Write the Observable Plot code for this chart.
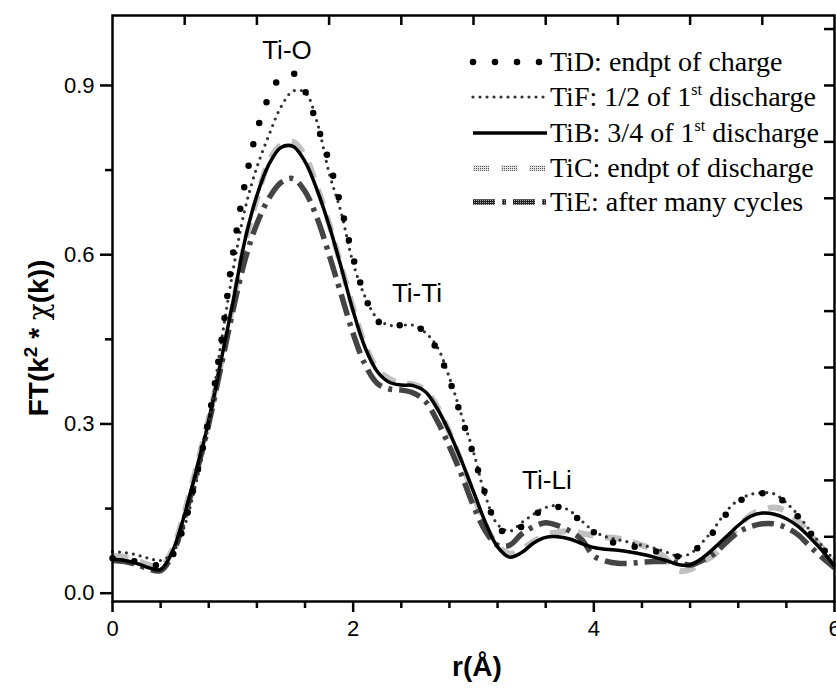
<!DOCTYPE html>
<html><head><meta charset="utf-8">
<script src="https://cdn.jsdelivr.net/npm/d3@7"></script>
<script src="https://cdn.jsdelivr.net/npm/@observablehq/plot@0.6"></script>
<style>body{margin:0;background:#fff} #chart{width:836px;height:688px;position:relative}</style>
</head><body><div id="chart"></div>
<script>
const r = [0.0,0.1,0.2,0.3,0.4,0.5,0.6,0.7,0.8,0.9,1.0,1.1,1.2,1.3,1.4,1.5,1.6,1.7,1.8,1.9,2.0,2.1,2.2,2.3,2.4,2.5,2.6,2.7,2.8,2.9,3.0,3.1,3.2,3.3,3.4,3.5,3.6,3.7,3.8,3.9,4.0,4.1,4.2,4.3,4.4,4.5,4.6,4.7,4.8,4.9,5.0,5.1,5.2,5.3,5.4,5.5,5.6,5.7,5.8,5.9,6.0];
const tiD = [0.062,0.060,0.056,0.052,0.050,0.068,0.125,0.210,0.310,0.440,0.600,0.725,0.820,0.880,0.915,0.922,0.890,0.830,0.765,0.685,0.595,0.525,0.483,0.473,0.475,0.475,0.462,0.430,0.378,0.312,0.245,0.175,0.118,0.105,0.118,0.137,0.151,0.153,0.144,0.126,0.108,0.094,0.088,0.084,0.080,0.075,0.070,0.065,0.070,0.088,0.110,0.140,0.162,0.172,0.177,0.175,0.158,0.135,0.107,0.080,0.055];
const tiF = [0.074,0.072,0.068,0.062,0.058,0.072,0.120,0.200,0.300,0.440,0.570,0.680,0.755,0.812,0.862,0.890,0.888,0.835,0.745,0.675,0.585,0.525,0.487,0.475,0.475,0.475,0.462,0.436,0.382,0.316,0.250,0.172,0.122,0.110,0.125,0.140,0.152,0.155,0.146,0.128,0.110,0.100,0.095,0.090,0.085,0.080,0.073,0.066,0.070,0.090,0.115,0.145,0.165,0.175,0.178,0.176,0.160,0.138,0.110,0.083,0.058];
const tiB = [0.060,0.058,0.053,0.045,0.042,0.075,0.140,0.220,0.305,0.410,0.515,0.625,0.705,0.760,0.790,0.792,0.765,0.715,0.652,0.578,0.500,0.435,0.393,0.374,0.369,0.368,0.357,0.327,0.285,0.235,0.180,0.125,0.082,0.064,0.072,0.089,0.099,0.100,0.096,0.088,0.081,0.078,0.076,0.073,0.069,0.064,0.058,0.051,0.050,0.062,0.080,0.100,0.120,0.136,0.142,0.140,0.132,0.118,0.098,0.075,0.048];
const tiC = [0.066,0.064,0.058,0.050,0.046,0.078,0.145,0.225,0.310,0.405,0.510,0.620,0.700,0.765,0.795,0.800,0.775,0.720,0.655,0.580,0.505,0.440,0.398,0.380,0.372,0.370,0.360,0.330,0.285,0.232,0.175,0.120,0.085,0.070,0.078,0.092,0.103,0.108,0.110,0.106,0.102,0.099,0.097,0.092,0.085,0.076,0.062,0.040,0.042,0.055,0.068,0.090,0.118,0.138,0.148,0.152,0.145,0.128,0.103,0.080,0.058];
const tiE = [0.058,0.056,0.051,0.043,0.040,0.070,0.135,0.215,0.300,0.400,0.500,0.590,0.655,0.700,0.728,0.735,0.712,0.665,0.600,0.530,0.460,0.405,0.372,0.362,0.360,0.355,0.340,0.305,0.260,0.210,0.155,0.110,0.085,0.085,0.105,0.118,0.125,0.120,0.110,0.095,0.066,0.057,0.053,0.053,0.055,0.056,0.056,0.054,0.050,0.058,0.070,0.090,0.108,0.118,0.123,0.123,0.116,0.103,0.082,0.063,0.045];

const legendLabels = [
  ["TiD: endpt of charge"],
  ["TiF: 1/2 of 1", "st", " discharge"],
  ["TiB: 3/4 of 1", "st", " discharge"],
  ["TiC: endpt of discharge"],
  ["TiE: after many cycles"]
];
const peakLabels = ["Ti-O", "Ti-Ti", "Ti-Li"];
const peakR = [1.45, 2.53, 3.61];
const peakV = [0.962, 0.531, 0.200];

const yTicks = [0, 0.3, 0.6, 0.9];
const yMinor = [0.15, 0.45, 0.75];
const xTicks = [0, 2, 4, 6];
const xMinor = [0.4, 0.8, 1.2, 1.6, 2.4, 2.8, 3.2, 3.6, 4.4, 4.8, 5.2, 5.6];
const topTicks = [0.6, 1.2, 1.8, 2.4, 3.0, 3.6, 4.2, 4.8, 5.4];
const rightTicks = [0.1, 0.2, 0.3, 0.4, 0.5, 0.6, 0.7, 0.8, 0.9, 1.0];

const styles = [
  {data: tiC, stroke: "url(#stipLight)", strokeWidth: 6, strokeDasharray: "16 12", strokeLinecap: "butt"},
  {data: tiE, stroke: "url(#stipDark)", strokeWidth: 5.5, strokeDasharray: "22 7 4 7", strokeLinecap: "butt"},
  {data: tiB, stroke: "#000", strokeWidth: 3.5, strokeDasharray: null, strokeLinecap: "butt"},
  {data: tiF, stroke: "#333", strokeWidth: 3.2, strokeDasharray: "0 7", strokeLinecap: "round"},
  {data: tiD, stroke: "#000", strokeWidth: 6.5, strokeDasharray: "0 22", strokeLinecap: "round"}
];
// legend order: D, F, B, C, E
const legendStyle = [styles[4], styles[3], styles[2], styles[0], styles[1]];

const rows = v => r.map((x, i) => ({r: x, v: v[i]}));

const lineMarks = styles.map(s => Plot.line(rows(s.data), {
  x: "r", y: "v", curve: "catmull-rom", stroke: s.stroke, strokeWidth: s.strokeWidth,
  strokeDasharray: s.strokeDasharray, strokeLinecap: s.strokeLinecap
}));

const W = 836, H = 688, mL = 112, mR = 2, mT = 15, mB = 87;
const chart = Plot.plot({
  width: W, height: H, marginLeft: mL, marginRight: mR, marginTop: mT, marginBottom: mB,
  style: {fontFamily: "'Liberation Sans', Arial, sans-serif", fontSize: "22px", background: "#fff", color: "#000"},
  x: {domain: [0, 6]},
  y: {domain: [-0.0147, 1.024]},
  marks: [
    ...lineMarks,
    Plot.text(peakLabels, {x: (d, i) => peakR[i], y: (d, i) => peakV[i], text: d => d, fontSize: 26, fill: "#000"}),
    Plot.frame({stroke: "#000", strokeWidth: 2.5}),
    Plot.axisY(yTicks, {tickSize: 12, tickPadding: 6, tickFormat: d3.format(".1f"), fontSize: 22, strokeWidth: 2.5, label: null}),
    Plot.axisY(yMinor, {tickSize: 7, tickFormat: () => "", strokeWidth: 2.5, label: null}),
    Plot.axisX(xTicks, {tickSize: 11, tickPadding: 8, tickFormat: d3.format("d"), fontSize: 22, strokeWidth: 2.5, label: null}),
    Plot.axisX(xMinor, {tickSize: 7, tickFormat: () => "", strokeWidth: 2.5, label: null}),
    Plot.tickX(topTicks, {stroke: "#000", strokeWidth: 2.5, insetBottom: H - mT - mB - 10}),
    Plot.tickY(rightTicks, {stroke: "#000", strokeWidth: 2.5, insetLeft: W - mL - mR - 10})
  ]
});
document.getElementById("chart").appendChild(chart);

const svg = d3.select(chart);

// stipple patterns
const defs = svg.insert("defs", ":first-child");
const light = defs.append("pattern").attr("id", "stipLight").attr("width", 2).attr("height", 2).attr("patternUnits", "userSpaceOnUse");
light.append("rect").attr("width", 2).attr("height", 2).attr("fill", "#e4e4e4");
light.append("rect").attr("width", 1).attr("height", 1).attr("fill", "#555");
const dark = defs.append("pattern").attr("id", "stipDark").attr("width", 2).attr("height", 2).attr("patternUnits", "userSpaceOnUse");
dark.append("rect").attr("width", 2).attr("height", 2).attr("fill", "#222");
dark.append("rect").attr("width", 1).attr("height", 1).attr("fill", "#aaa");

// axis titles
svg.append("text")
  .attr("transform", "translate(48,338) rotate(-90)")
  .attr("text-anchor", "middle")
  .attr("font-family", "'Liberation Sans', Arial, sans-serif")
  .attr("font-size", 28).attr("font-weight", "bold").attr("fill", "#000")
  .call(t => {
    t.append("tspan").text("FT(k");
    t.append("tspan").attr("dy", -11).attr("font-size", 19).text("2");
    t.append("tspan").attr("dy", 11).text(" * ");
    t.append("tspan").attr("font-weight", "normal").attr("font-family", "'DejaVu Serif', serif").text("χ");
    t.append("tspan").text("(k))");
  });
svg.append("text")
  .attr("x", 477).attr("y", 676)
  .attr("text-anchor", "middle")
  .attr("font-family", "'Liberation Sans', Arial, sans-serif")
  .attr("font-size", 28).attr("font-weight", "bold").attr("fill", "#000")
  .text("r(Å)");

// legend
const lg = svg.append("g");
const rowY = [62, 97, 133, 168, 202];
legendStyle.forEach((s, i) => {
  lg.append("line").attr("x1", 473).attr("x2", 547).attr("y1", rowY[i]).attr("y2", rowY[i])
    .attr("stroke", s.stroke).attr("stroke-width", s.strokeWidth)
    .attr("stroke-dasharray", s.strokeDasharray).attr("stroke-linecap", s.strokeLinecap);
  const t = lg.append("text").attr("x", 550).attr("y", rowY[i] + 9)
    .attr("text-anchor", "start")
    .attr("font-family", "'Liberation Serif', 'Times New Roman', serif")
    .attr("font-size", 28).attr("fill", "#000");
  const parts = legendLabels[i];
  t.append("tspan").text(parts[0]);
  if (parts.length > 1) {
    t.append("tspan").attr("dy", -11).attr("font-size", 16).text(parts[1]);
    t.append("tspan").attr("dy", 11).text(parts[2]);
  }
});
</script>
</body></html>
